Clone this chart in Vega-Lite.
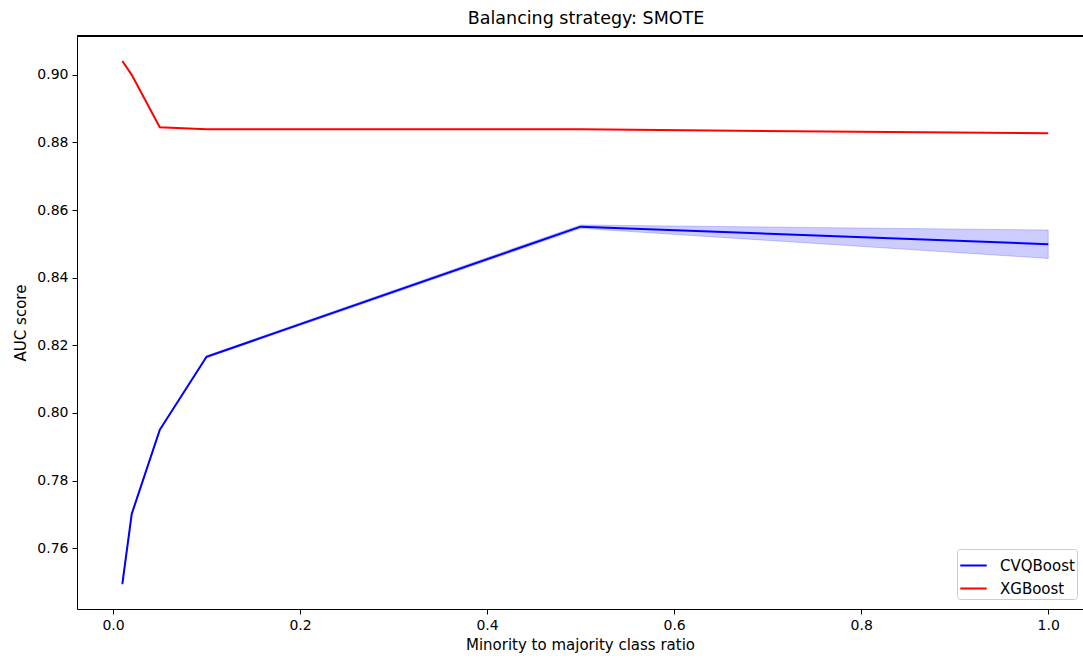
{
  "$schema": "https://vega.github.io/schema/vega-lite/v6.json",
  "width": 1006,
  "height": 573,
  "autosize": {"type": "none"},
  "padding": {"left": 77, "top": 36, "right": 0, "bottom": 51},
  "background": "white",
  "config": {
    "font": "DejaVu Sans",
    "view": {"stroke": null},
    "axis": {
      "labelFont": "DejaVu Sans",
      "titleFont": "DejaVu Sans",
      "labelFontSize": 14,
      "titleFontSize": 15,
      "titleFontWeight": "normal",
      "labelColor": "black",
      "titleColor": "black",
      "tickColor": "black",
      "domainColor": "black",
      "domainWidth": 1,
      "tickSize": 5,
      "tickWidth": 1,
      "grid": false
    }
  },
  "title": {
    "text": "Balancing strategy: SMOTE",
    "font": "DejaVu Sans",
    "fontSize": 17.5,
    "fontWeight": "normal",
    "color": "black",
    "anchor": "middle",
    "dx": 6,
    "offset": 8
  },
  "data": {
    "values": [
      {"ratio": 0.01, "model": "CVQBoost", "auc": 0.7494, "lo": 0.7491, "hi": 0.7497},
      {"ratio": 0.02, "model": "CVQBoost", "auc": 0.7701, "lo": 0.7698, "hi": 0.7704},
      {"ratio": 0.05, "model": "CVQBoost", "auc": 0.7950, "lo": 0.7947, "hi": 0.7953},
      {"ratio": 0.1, "model": "CVQBoost", "auc": 0.8166, "lo": 0.8163, "hi": 0.8169},
      {"ratio": 0.5, "model": "CVQBoost", "auc": 0.8551, "lo": 0.8546, "hi": 0.8556},
      {"ratio": 1.0, "model": "CVQBoost", "auc": 0.8499, "lo": 0.8457, "hi": 0.8541},
      {"ratio": 0.01, "model": "XGBoost", "auc": 0.9041},
      {"ratio": 0.02, "model": "XGBoost", "auc": 0.9000},
      {"ratio": 0.05, "model": "XGBoost", "auc": 0.8845},
      {"ratio": 0.1, "model": "XGBoost", "auc": 0.8839},
      {"ratio": 0.5, "model": "XGBoost", "auc": 0.8839},
      {"ratio": 1.0, "model": "XGBoost", "auc": 0.8827}
    ]
  },
  "layer": [
    {
      "transform": [{"filter": "datum.model === 'CVQBoost'"}],
      "mark": {"type": "area", "fill": "#0000ff", "fillOpacity": 0.2, "stroke": "#0000ff", "strokeOpacity": 0.2, "strokeWidth": 1},
      "encoding": {
        "x": {"field": "ratio", "type": "quantitative"},
        "y": {"field": "lo", "type": "quantitative"},
        "y2": {"field": "hi"}
      }
    },
    {
      "mark": {"type": "line", "strokeWidth": 2},
      "encoding": {
        "x": {
          "field": "ratio",
          "type": "quantitative",
          "scale": {"domain": [-0.0385, 1.0372], "nice": false, "zero": false},
          "axis": {"title": "Minority to majority class ratio", "values": [0, 0.2, 0.4, 0.6, 0.8, 1.0], "format": ".1f", "labelPadding": 4, "titlePadding": 5}
        },
        "y": {
          "field": "auc",
          "type": "quantitative",
          "scale": {"domain": [0.742, 0.9115], "nice": false, "zero": false},
          "axis": {"title": "AUC score", "values": [0.76, 0.78, 0.80, 0.82, 0.84, 0.86, 0.88, 0.90], "format": ".2f", "labelPadding": 4, "titlePadding": 8}
        },
        "color": {
          "field": "model",
          "type": "nominal",
          "scale": {"domain": ["CVQBoost", "XGBoost"], "range": ["#0000ff", "#ff0000"]},
          "legend": {
            "title": null,
            "orient": "none",
            "legendX": 880,
            "legendY": 513,
            "symbolType": "stroke",
            "symbolSize": 700,
            "symbolStrokeWidth": 2,
            "labelFont": "DejaVu Sans",
            "labelFontSize": 15,
            "labelColor": "black",
            "labelOffset": 12,
            "rowPadding": -3,
            "padding": 2,
            "fillColor": "white",
            "strokeColor": "#cccccc",
            "cornerRadius": 3
          }
        }
      }
    },
    {
      "mark": {"type": "rule", "color": "black", "strokeWidth": 1},
      "encoding": {
        "y": {"datum": 0.9115, "type": "quantitative"}
      }
    }
  ]
}
